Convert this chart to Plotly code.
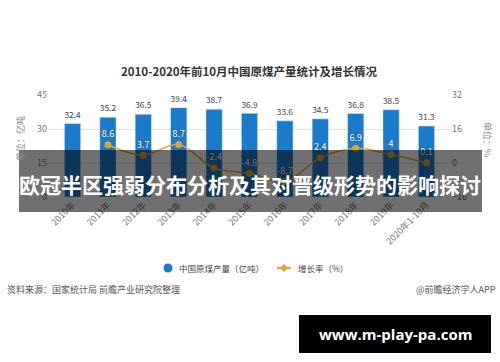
import plotly.graph_objects as go

categories = ["2010年", "2011年", "2012年", "2013年", "2014年", "2015年",
              "2016年", "2017年", "2018年", "2019年", "2020年1-10月"]
production = [32.4, 35.2, 36.5, 39.4, 38.7, 36.9, 33.6, 34.5, 36.8, 38.5, 31.3]
growth = [None, 8.6, 3.7, 8.7, -2.4, -4.8, -8.7, 2.4, 6.9, 4, 0.1]
left_ticks = [0, 15, 30, 45]
right_ticks = [-16, 0, 16, 32]
legend_names = ["中国原煤产量（亿吨）", "增长率（%）"]

FONT = "Noto Sans CJK SC"
BLUE = "#1b7bcb"
GOLD = "#e0a52c"

# plot area in pixels
L, R, T, B = 48, 451, 95, 197
PW, PH = R - L, B - T


def px(x):
    return (x - L) / PW


def py(y):
    return (B - y) / PH


fig = go.Figure()
fig.add_trace(go.Bar(
    x=categories, y=production, marker_color=BLUE, width=0.46,
    text=[f"{v}" for v in production], textposition="outside",
    textfont=dict(size=9, color="#444", family=FONT), cliponaxis=False,
    showlegend=False, yaxis="y"))
fig.add_trace(go.Scatter(
    x=categories, y=growth, mode="lines+markers+text", yaxis="y2",
    line=dict(color=GOLD, width=1.5, shape="spline"),
    marker=dict(size=7, color=GOLD),
    text=[("" if v is None else f"{v:g}") for v in growth],
    textposition="top center",
    textfont=dict(size=9, color="white", family=FONT, shadow="0px 0px 2px #333"),
    cliponaxis=False, showlegend=False))

fig.update_layout(
    width=500, height=362,
    margin=dict(l=L, r=500 - R, t=T, b=362 - B, autoexpand=False),
    paper_bgcolor="white", plot_bgcolor="white",
    font=dict(family=FONT, color="#666", size=9),
    xaxis=dict(tickangle=-45, tickfont=dict(size=9, color="#777"), showgrid=False,
               showline=False, ticks="", automargin=False),
    yaxis=dict(range=[0, 45], tickvals=left_ticks, showgrid=True, gridcolor="#e3e3e3",
               zeroline=False, tickfont=dict(size=9, color="#777"), automargin=False),
    yaxis2=dict(range=[-16, 32], tickvals=right_ticks, overlaying="y", side="right",
                showgrid=False, zeroline=False, tickfont=dict(size=9, color="#777"), automargin=False),
    showlegend=False,
)


def note(text, x, y, size=9, color="#555", xanchor="center", family=None, angle=0):
    f = dict(size=size, color=color)
    if family:
        f["family"] = family
    fig.add_annotation(text=text, xref="paper", yref="paper", x=px(x), y=py(y),
                       xanchor=xanchor, yanchor="middle", showarrow=False, font=f,
                       textangle=angle)


# title
note("<b>2010-2020年前10月中国原煤产量统计及增长情况</b>", 250, 71, size=11.5, color="#333")

# axis titles
note("单位：亿吨", 20, 139, size=9, color="#888", angle=-90)
note("单位：%", 488, 139, size=9, color="#888", angle=90)

# manual legend
fig.add_shape(type="circle", xref="paper", yref="paper", x0=px(163.5), x1=px(172.5),
              y0=py(272.5), y1=py(263.5), fillcolor=BLUE, line_width=0)
note(legend_names[0], 177, 268, size=8.5, color="#444", xanchor="left")
fig.add_shape(type="line", xref="paper", yref="paper", x0=px(277), x1=px(291),
              y0=py(268), y1=py(268), line=dict(color=GOLD, width=2))
fig.add_shape(type="path", xref="paper", yref="paper",
              path=f"M {px(284)} {py(264)} L {px(288)} {py(268)} L {px(284)} {py(272)} L {px(280)} {py(268)} Z",
              fillcolor=GOLD, line_width=0)
note(legend_names[1], 296, 268, size=8.5, color="#444", xanchor="left")

# footer
note("资料来源：国家统计局 前瞻产业研究院整理", 5, 289, xanchor="left")
note("@前瞻经济学人APP", 498, 289, xanchor="right")

# overlay banner
fig.add_shape(type="rect", xref="paper", yref="paper", layer="above",
              x0=px(19), x1=px(482), y0=py(212), y1=py(150),
              fillcolor="rgba(0,0,0,0.56)", line_width=0)
note("<b>欧冠半区强弱分布分析及其对晋级形势的影响探讨</b>", 250, 184, size=21, color="white")

# watermark
fig.add_shape(type="rect", xref="paper", yref="paper", layer="above",
              x0=px(299), x1=px(491), y0=py(353), y1=py(315),
              fillcolor="black", line_width=0)
note("<b>www.m-play-pa.com</b>", 395, 334, size=15, color="white", family="Open Sans")

fig.write_html("out.html", config={"displayModeBar": False},
               post_script="document.body.style.margin='0px';")
